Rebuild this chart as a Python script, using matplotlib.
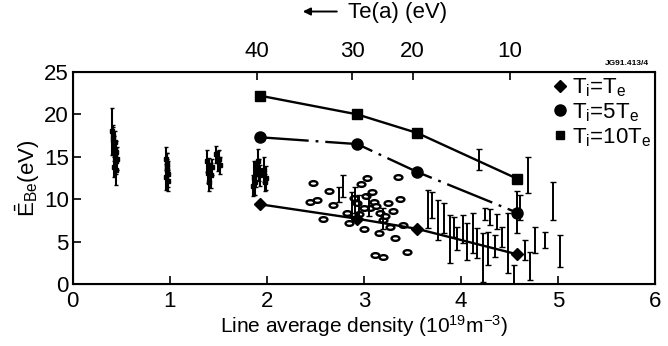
import numpy as np
import matplotlib
matplotlib.use("Agg")
import matplotlib.pyplot as plt
from matplotlib.lines import Line2D
from matplotlib.path import Path
from matplotlib.transforms import Affine2D

plt.rcParams['font.family'] = ['Liberation Sans', 'DejaVu Sans']
plt.rcParams['mathtext.default'] = 'regular'
plt.rcParams['lines.scale_dashes'] = False

# model curves (density, E_Be)
line_x = [1.93, 2.93, 3.55, 4.58]
e_ti_te = [9.4, 7.7, 6.5, 3.5]
e_ti_5te = [17.3, 16.5, 13.2, 8.4]
e_ti_10te = [22.2, 20.0, 17.8, 12.4]

# top axis: edge temperature
te_pos = [1.90, 2.88, 3.50, 4.50]
te_labels = ['40', '30', '20', '10']

# dense measurement columns (x, y, error)
col_x = [0.40, 0.41, 0.42, 0.43, 0.44, 0.42, 0.45, 0.46, 0.43, 0.41, 0.44,
         0.96, 0.97, 0.98, 0.96, 0.97, 0.98, 0.97,
         1.38, 1.40, 1.42, 1.40, 1.43, 1.39,
         1.48, 1.50, 1.52, 1.51,
         1.87, 1.88, 1.89, 1.86,
         1.91, 1.92, 1.93,
         1.97, 1.99, 1.98]
col_y = [18.0, 17.0, 16.0, 15.2, 14.5, 13.8, 13.5, 14.8, 16.8, 17.5, 15.6,
         14.8, 13.8, 13.0, 12.6, 14.2, 12.2, 13.4,
         14.5, 13.5, 12.8, 12.0, 13.8, 13.1,
         15.3, 14.5, 14.0, 14.8,
         12.5, 12.0, 13.0, 11.6,
         14.5, 13.5, 12.8,
         13.5, 12.5, 12.0]
col_err = [2.8, 1.5, 1.5, 1.5, 1.5, 1.2, 1.8, 1.4, 1.3, 1.2, 1.3,
           1.3, 1.6, 1.5, 1.5, 1.2, 1.2, 1.3,
           1.3, 1.4, 1.5, 1.0, 1.0, 1.2,
           1.0, 1.2, 1.0, 1.0,
           2.0, 1.5, 1.5, 1.2,
           1.4, 1.3, 1.2,
           1.5, 1.4, 1.0]

# scattered error bars (x, low, high)
bar_x = [2.74, 2.78, 2.88, 2.91, 2.95, 3.05, 3.20,
         3.66, 3.70, 3.76, 3.82, 3.89, 3.93, 3.96, 4.02, 4.06, 4.12, 4.16,
         4.18, 4.23, 4.25, 4.28, 4.30, 4.35, 4.37, 4.42, 4.48, 4.54, 4.58,
         4.61, 4.66, 4.69, 4.71, 4.76, 4.86, 4.95, 5.02]
bar_lo = [9.7, 10.3, 8.0, 8.4, 7.5, 8.0, 6.5,
          6.6, 7.8, 5.2, 6.0, 2.5, 5.5, 4.0, 4.8, 2.8, 3.7, 3.1,
          13.4, 0.2, 7.5, 2.2, 7.0, 3.2, 6.5, 4.4, 1.3, 0.0, 6.0,
          7.5, 2.8, 10.7, 0.5, 3.7, 4.2, 7.5, 2.0]
bar_hi = [11.4, 12.9, 10.8, 11.4, 10.5, 10.5, 9.0,
          11.1, 10.8, 9.9, 9.5, 8.1, 7.9, 6.7, 8.1, 7.2, 8.4, 6.6,
          15.9, 6.0, 9.0, 6.1, 8.8, 5.8, 8.2, 6.7, 8.4, 2.2, 11.0,
          10.5, 5.2, 15.0, 3.8, 6.7, 6.1, 12.0, 5.8]

# open oval points
oval_x = [2.47, 2.64, 2.44, 2.52, 2.58, 2.68, 2.82, 2.93, 2.97, 3.03,
          3.06, 3.10, 3.16, 3.20, 3.30, 3.00, 3.27, 3.32, 3.35, 3.37,
          3.11, 3.20, 3.44, 2.90, 3.00, 3.08, 3.25, 3.40, 3.15, 2.85,
          2.95, 3.02, 3.12, 3.22]
oval_y = [11.9, 11.0, 9.7, 9.9, 7.7, 9.3, 8.4, 9.5, 11.8, 12.5,
          9.0, 9.7, 8.4, 7.5, 8.6, 6.5, 6.7, 5.4, 12.6, 10.0,
          3.4, 3.2, 3.8, 10.2, 9.0, 10.8, 9.5, 7.0, 6.0, 7.2,
          8.2, 10.4, 9.2, 8.0]

fig = plt.figure(figsize=(6.68, 3.46), dpi=100)
ax = fig.add_axes([0.109, 0.179, 0.872, 0.613])

oval = Path.unit_circle().transformed(Affine2D().scale(1.0, 0.6))
ax.scatter(oval_x, oval_y, marker=oval, s=32, facecolor='white',
           edgecolor='black', linewidths=1.7, zorder=2)

ax.errorbar(col_x, col_y, yerr=col_err, fmt='s', ms=3.2, color='black',
            ecolor='black', elinewidth=1.5, capsize=1.5, zorder=3)

bx = np.array(bar_x)
blo = np.array(bar_lo)
bhi = np.array(bar_hi)
ax.errorbar(bx, (blo + bhi) / 2, yerr=(bhi - blo) / 2, fmt='none',
            ecolor='black', elinewidth=1.4, capsize=2, zorder=3)

ax.plot(line_x, e_ti_10te, color='black', lw=1.7, marker='s', ms=7, zorder=4)
ax.plot(line_x, e_ti_5te, color='black', lw=1.7, marker='o', ms=8,
        linestyle=(0, (35, 5, 2, 5)), zorder=4)
ax.plot(line_x, e_ti_te, color='black', lw=1.7, marker='D', ms=6.5, zorder=4)

ax.set_xlim(0, 6)
ax.set_ylim(0, 25)
ax.set_xticks(range(7))
ax.set_yticks(range(0, 26, 5))
ax.tick_params(direction='in', length=6, width=1.2, labelsize=16, pad=3)
ax.tick_params(axis='x', pad=5)
ax.tick_params(axis='y', right=False)
for s in ax.spines.values():
    s.set_linewidth(1.5)

ax.set_xlabel('Line average density (10$^{19}$m$^{-3}$)', fontsize=15, labelpad=1)
ax.set_ylabel(r'$\bar{E}_{Be}$(eV)', fontsize=16, labelpad=1)

ax2 = ax.twiny()
ax2.set_xlim(0, 6)
ax2.set_xticks(te_pos)
ax2.set_xticklabels(te_labels)
ax2.tick_params(direction='in', length=6, width=1.2, labelsize=16, pad=7)
ax2.set_xlabel('Te(a) (eV)', fontsize=16)
ax2.xaxis.set_label_coords(0.472, 1.255)
ax2.xaxis.label.set_ha('left')
ax2.annotate('', xy=(0.39, 1.285), xytext=(0.458, 1.285),
             xycoords='axes fraction',
             arrowprops=dict(arrowstyle='-|>', color='black', lw=1.4,
                             mutation_scale=11))

handles = [Line2D([], [], color='black', marker='D', ls='none', ms=6.5),
           Line2D([], [], color='black', marker='o', ls='none', ms=8),
           Line2D([], [], color='black', marker='s', ls='none', ms=6)]
labels = ['T$_i$=T$_e$', 'T$_i$=5T$_e$', 'T$_i$=10T$_e$']
ax.legend(handles, labels, loc='upper right', frameon=False, fontsize=16,
          handlelength=0.5, handletextpad=0.25, labelspacing=0.1,
          borderaxespad=0.0, borderpad=0.2)

fig.text(0.972, 0.805, 'JG91.413/4', fontsize=6, ha='right', va='bottom',
         fontweight='bold')

fig.savefig('out.png', dpi=100)
